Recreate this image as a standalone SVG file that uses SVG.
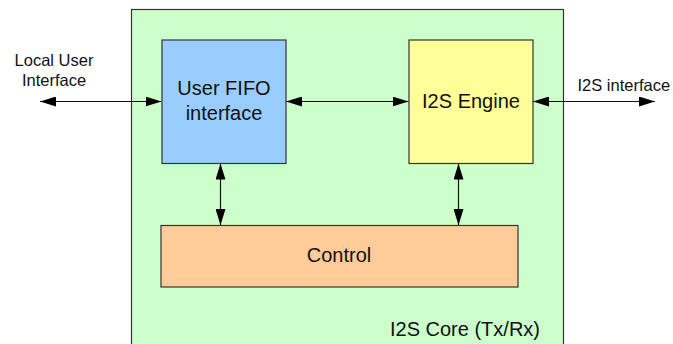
<svg xmlns="http://www.w3.org/2000/svg" width="673" height="344" viewBox="0 0 673 344">
<style>
.box{stroke:#333;stroke-width:1.2}
.t{font-family:"Liberation Sans",Arial,sans-serif;fill:#111}
.big{font-size:20px}
.small{font-size:16.5px}
.c{stroke:#111;stroke-width:1.2;fill:none;marker-start:url(#ah);marker-end:url(#ah)}
</style>
<defs>
<marker id="ah" markerUnits="userSpaceOnUse" markerWidth="16" markerHeight="10" refX="16" refY="5" orient="auto-start-reverse" viewBox="0 0 16 10">
<path d="M0,0 L16,5 L0,10 Z" fill="#000"/>
</marker>
</defs>
<g id="core">
<rect class="box" x="131.5" y="9.5" width="432" height="345" fill="#CCFFCC"/>
<text class="t big" x="540" y="335.5" text-anchor="end">I2S Core (Tx/Rx)</text>
</g>
<g id="connectors">
<line class="c" x1="40" y1="101.5" x2="161.5" y2="101.5"/>
<line class="c" x1="286" y1="101.5" x2="408.5" y2="101.5"/>
<line class="c" x1="533" y1="101.5" x2="655" y2="101.5"/>
<line class="c" x1="220.5" y1="163.5" x2="220.5" y2="225"/>
<line class="c" x1="458.5" y1="163.5" x2="458.5" y2="225"/>
</g>
<g id="user-fifo">
<rect class="box" x="162" y="40" width="124" height="123.5" fill="#99CCFF"/>
<text class="t big" x="224" y="95" text-anchor="middle">User FIFO</text>
<text class="t big" x="224" y="119.5" text-anchor="middle">interface</text>
</g>
<g id="i2s-engine">
<rect class="box" x="409" y="40" width="124" height="123.5" fill="#FFFF99"/>
<text class="t big" x="471" y="107.5" text-anchor="middle">I2S Engine</text>
</g>
<g id="control">
<rect class="box" x="161" y="225.5" width="357" height="61.5" fill="#FFCC99"/>
<text class="t big" x="339" y="262" text-anchor="middle">Control</text>
</g>
<g id="local-user-label">
<text class="t small" x="54" y="66" text-anchor="middle">Local User</text>
<text class="t small" x="54" y="86" text-anchor="middle">Interface</text>
</g>
<g id="i2s-interface-label">
<text class="t small" x="577.5" y="90.5">I2S interface</text>
</g>
</svg>
